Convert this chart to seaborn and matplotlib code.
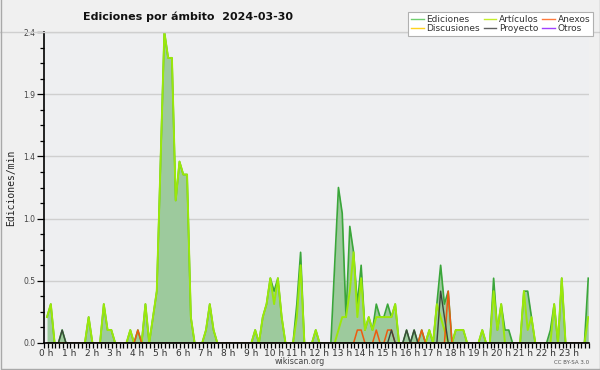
import numpy as np
import pandas as pd
import matplotlib
matplotlib.use("Agg")
import matplotlib.pyplot as plt
import matplotlib.transforms as mtransforms
from matplotlib.lines import Line2D
from matplotlib.ticker import FixedLocator, MultipleLocator
import seaborn as sns

# ---------------- data (edits per minute, 10-minute bins, 2024-03-30) ----------------
ediciones = [
    0.2, 0.3, 0, 0, 0.1, 0, 0, 0, 0, 0, 0, 0.2,
    0, 0, 0, 0.3, 0.1, 0.1, 0, 0, 0, 0, 0.1, 0,
    0.1, 0, 0.3, 0, 0.2, 0.4, 1.4, 2.4, 2.2, 2.2, 1.1, 1.4,
    1.3, 1.3, 0.2, 0, 0, 0, 0.1, 0.3, 0.1, 0, 0, 0,
    0, 0, 0, 0, 0, 0, 0, 0.1, 0, 0.2, 0.3, 0.5,
    0.4, 0.5, 0.2, 0, 0, 0, 0.3, 0.7, 0, 0, 0, 0.1,
    0, 0, 0, 0, 0.6, 1.2, 1.0, 0.2, 0.9, 0.7, 0.3, 0.6,
    0.1, 0.2, 0.1, 0.3, 0.2, 0.2, 0.3, 0.2, 0.3, 0, 0, 0.1,
    0, 0.1, 0, 0.1, 0, 0.1, 0, 0.3, 0.6, 0.3, 0.4, 0,
    0.1, 0.1, 0.1, 0, 0, 0, 0, 0.1, 0, 0, 0.5, 0.1,
    0.3, 0.1, 0.1, 0, 0, 0, 0.4, 0.4, 0.2, 0, 0, 0,
    0, 0.1, 0.3, 0, 0.5, 0, 0, 0, 0, 0, 0, 0.5,
]
articulos = [
    0.2, 0.3, 0, 0, 0, 0, 0, 0, 0, 0, 0, 0.2,
    0, 0, 0, 0.3, 0.1, 0.1, 0, 0, 0, 0, 0.1, 0,
    0, 0, 0.3, 0, 0.2, 0.4, 1.4, 2.4, 2.2, 2.2, 1.1, 1.4,
    1.3, 1.3, 0.2, 0, 0, 0, 0.1, 0.3, 0.1, 0, 0, 0,
    0, 0, 0, 0, 0, 0, 0, 0.1, 0, 0.2, 0.3, 0.5,
    0.3, 0.5, 0.2, 0, 0, 0, 0.2, 0.6, 0, 0, 0, 0.1,
    0, 0, 0, 0, 0, 0.1, 0.2, 0.2, 0.4, 0.7, 0.2, 0.5,
    0.1, 0.2, 0.1, 0.2, 0.2, 0.2, 0.2, 0.2, 0.3, 0, 0, 0,
    0, 0, 0, 0, 0, 0.1, 0, 0.3, 0.2, 0.1, 0, 0,
    0.1, 0.1, 0.1, 0, 0, 0, 0, 0.1, 0, 0, 0.4, 0.1,
    0.3, 0, 0, 0, 0, 0, 0.4, 0.1, 0.2, 0, 0, 0,
    0, 0, 0.3, 0, 0.5, 0, 0, 0, 0, 0, 0, 0.2,
]
anexos = [
    0, 0, 0, 0, 0, 0, 0, 0, 0, 0, 0, 0,
    0, 0, 0, 0, 0, 0, 0, 0, 0, 0, 0, 0,
    0.1, 0, 0, 0, 0, 0, 0, 0, 0, 0, 0, 0,
    0, 0, 0, 0, 0, 0, 0, 0, 0, 0, 0, 0,
    0, 0, 0, 0, 0, 0, 0, 0, 0, 0, 0, 0,
    0, 0, 0, 0, 0, 0, 0, 0, 0, 0, 0, 0,
    0, 0, 0, 0, 0, 0, 0, 0, 0, 0, 0.1, 0.1,
    0, 0, 0, 0.1, 0, 0, 0.1, 0.1, 0, 0, 0, 0,
    0, 0, 0, 0.1, 0, 0, 0, 0, 0, 0, 0.4, 0,
    0, 0, 0, 0, 0, 0, 0, 0, 0, 0, 0, 0,
    0, 0, 0, 0, 0, 0, 0, 0, 0, 0, 0, 0,
    0, 0, 0, 0, 0, 0, 0, 0, 0, 0, 0, 0,
]
discusiones = [
    0, 0, 0, 0, 0, 0, 0, 0, 0, 0, 0, 0,
    0, 0, 0, 0, 0, 0, 0, 0, 0, 0, 0, 0,
    0, 0, 0, 0, 0, 0, 0, 0, 0, 0, 0, 0,
    0, 0, 0, 0, 0, 0, 0, 0, 0, 0, 0, 0,
    0, 0, 0, 0, 0, 0, 0, 0, 0, 0, 0, 0,
    0, 0, 0, 0, 0, 0, 0, 0, 0, 0, 0, 0,
    0, 0, 0, 0, 0, 0, 0, 0, 0, 0, 0, 0,
    0, 0, 0, 0, 0, 0, 0, 0, 0, 0, 0, 0,
    0, 0, 0, 0, 0, 0, 0, 0, 0, 0, 0, 0,
    0, 0, 0, 0, 0, 0, 0, 0, 0, 0, 0, 0,
    0, 0, 0, 0, 0, 0, 0, 0, 0, 0, 0, 0,
    0, 0, 0, 0, 0, 0, 0, 0, 0, 0, 0, 0,
]
proyecto = [
    0, 0, 0, 0, 0.1, 0, 0, 0, 0, 0, 0, 0,
    0, 0, 0, 0, 0, 0, 0, 0, 0, 0, 0, 0,
    0, 0, 0, 0, 0, 0, 0, 0, 0, 0, 0, 0,
    0, 0, 0, 0, 0, 0, 0, 0, 0, 0, 0, 0,
    0, 0, 0, 0, 0, 0, 0, 0, 0, 0, 0, 0,
    0, 0, 0, 0, 0, 0, 0, 0, 0, 0, 0, 0,
    0, 0, 0, 0, 0, 0, 0, 0, 0, 0, 0, 0,
    0, 0, 0, 0, 0, 0, 0, 0.1, 0, 0, 0, 0.1,
    0, 0.1, 0, 0, 0, 0, 0, 0, 0.4, 0.2, 0, 0,
    0, 0, 0, 0, 0, 0, 0, 0, 0, 0, 0, 0,
    0, 0, 0, 0, 0, 0, 0, 0, 0, 0, 0, 0,
    0, 0, 0, 0, 0, 0, 0, 0, 0, 0, 0, 0,
]
otros = [
    0, 0, 0, 0, 0, 0, 0, 0, 0, 0, 0, 0,
    0, 0, 0, 0, 0, 0, 0, 0, 0, 0, 0, 0,
    0, 0, 0, 0, 0, 0, 0, 0, 0, 0, 0, 0,
    0, 0, 0, 0, 0, 0, 0, 0, 0, 0, 0, 0,
    0, 0, 0, 0, 0, 0, 0, 0, 0, 0, 0, 0,
    0, 0, 0, 0, 0, 0, 0, 0, 0, 0, 0, 0,
    0, 0, 0, 0, 0, 0, 0, 0, 0, 0, 0, 0,
    0, 0, 0, 0, 0, 0, 0, 0, 0, 0, 0, 0,
    0, 0, 0, 0, 0, 0, 0, 0, 0, 0, 0, 0,
    0, 0, 0, 0, 0, 0, 0, 0, 0, 0, 0, 0,
    0, 0, 0, 0, 0, 0, 0, 0, 0, 0, 0, 0,
    0, 0, 0, 0, 0, 0, 0, 0, 0, 0, 0, 0,
]
hour_labels = [f"{h} h" for h in range(24)]
ytick_values = [0.0, 0.48, 0.96, 1.44, 1.92, 2.4]
ytick_labels = ["0.0", "0.5", "1.0", "1.4", "1.9", "2.4"]
title = "Ediciones por ámbito  2024-03-30"
ylabel = "Ediciones/min"

# ---------------- figure ----------------
W, H = 600, 370
fig = plt.figure(figsize=(W / 100, H / 100), dpi=100)
fig.patch.set_facecolor("#f0f0f0")

L, R, T, B = 44, 589, 32, 343
ax = fig.add_axes([L / W, 1 - B / H, (R - L) / W, (B - T) / H])
ax.set_facecolor("#eeeff1")

n = len(ediciones)
hours = (np.arange(n) + 0.8) / 6.0
df = pd.DataFrame({
    "hora": hours,
    "Ediciones": ediciones,
    "Artículos": articulos,
    "Anexos": anexos,
    "Discusiones": discusiones,
    "Proyecto": proyecto,
    "Otros": otros,
})

ax.fill_between(df["hora"], 0, df["Ediciones"], color="#9dca9d", lw=0, zorder=1)
sns.lineplot(data=df, x="hora", y="Ediciones", color="#3aa63a", lw=1.2, ax=ax, zorder=2)
sns.lineplot(data=df, x="hora", y="Discusiones", color="#ffd21e", lw=1.0, ax=ax, zorder=2)
sns.lineplot(data=df, x="hora", y="Otros", color="#9933ff", lw=1.0, ax=ax, zorder=2)
sns.lineplot(data=df, x="hora", y="Artículos", color="#9be80a", lw=1.4, ax=ax, zorder=2.1)
sns.lineplot(data=df, x="hora", y="Anexos", color="#ee5a10", lw=1.1, ax=ax, zorder=2.2)
sns.lineplot(data=df, x="hora", y="Proyecto", color="#3c463c", lw=1.0, ax=ax, zorder=2.3)

ax.set_xlim(0, 24)
ax.set_ylim(0, 2.4)
ax.set_xlabel("")
ax.set_ylabel("")

for s in ["top", "right"]:
    ax.spines[s].set_visible(False)
for s in ["left", "bottom"]:
    ax.spines[s].set_color("black")
    ax.spines[s].set_linewidth(1.2)
    ax.spines[s].set_zorder(5)

ax.yaxis.set_major_locator(FixedLocator(ytick_values))
ax.set_yticklabels(ytick_labels)
ax.yaxis.set_minor_locator(MultipleLocator(0.12))
ax.tick_params(axis="y", which="major", length=5, width=0.9, pad=1, labelsize=5.5,
               labelcolor="#444444", color="black")
ax.tick_params(axis="y", which="minor", length=3, width=0.9, color="black")

ax.set_xticks(range(24))
ax.set_xticklabels(hour_labels)
ax.xaxis.set_minor_locator(MultipleLocator(1 / 6))
ax.tick_params(axis="x", which="both", length=3.5, width=0.9, color="black",
               direction="out", pad=0.5, labelsize=6.5, labelcolor="#333333")
shift = mtransforms.ScaledTranslation(2.5 / 100, 0, fig.dpi_scale_trans)
for lbl in ax.get_xticklabels():
    lbl.set_transform(lbl.get_transform() + shift)

ax.grid(axis="y", which="major", color="#cfcfcf", lw=1.0)
ax.grid(axis="x", visible=False)
ax.set_axisbelow(True)

# frame lines of the picture
fig.add_artist(Line2D([0, 1], [1 - 31.5 / H] * 2, transform=fig.transFigure,
                      color="#cfcfcf", lw=1.0))
fig.add_artist(Line2D([0.5 / W, 0.5 / W, 599.5 / W, 599.5 / W],
                      [1 - 0 / H, 1 - 368.5 / H, 1 - 368.5 / H, 1],
                      transform=fig.transFigure, color="#a9a9a9", lw=1.0))

# texts
fig.text(188 / W, 1 - 17 / H, title, ha="center", va="center",
         fontsize=8, fontweight="bold", color="#111111")
fig.text(11 / W, 1 - 188 / H, ylabel, rotation=90, ha="center", va="center",
         fontsize=7, family="DejaVu Sans Mono", color="#222222")
fig.text(300 / W, 1 - 361 / H, "wikiscan.org", ha="center", va="center",
         fontsize=5.8, color="#444444")
fig.text(589 / W, 1 - 362.5 / H, "CC BY-SA 3.0", ha="right", va="center",
         fontsize=4, color="#555555")

# legend
leg_items = [("Ediciones", "#6fcf6f"), ("Discusiones", "#ffd21e"),
             ("Artículos", "#c4ee2a"), ("Proyecto", "#606060"),
             ("Anexos", "#ff7a3c"), ("Otros", "#a040ff")]
handles = [Line2D([], [], color=c, lw=1.0) for _, c in leg_items]
labels = [t for t, _ in leg_items]
leg = fig.legend(handles, labels, ncol=3, loc="upper right",
                 bbox_to_anchor=(593 / W, 1 - 12 / H), bbox_transform=fig.transFigure,
                 fontsize=6.5, frameon=True, fancybox=False, framealpha=1,
                 handlelength=1.4, handletextpad=0.3, columnspacing=0.4,
                 labelspacing=0.05, borderpad=0.3, borderaxespad=0)
leg.get_frame().set_edgecolor("#b0b0b0")
leg.get_frame().set_linewidth(0.8)
for t in leg.get_texts():
    t.set_color("#333333")

fig.savefig("out.png", dpi=100, facecolor=fig.get_facecolor())
